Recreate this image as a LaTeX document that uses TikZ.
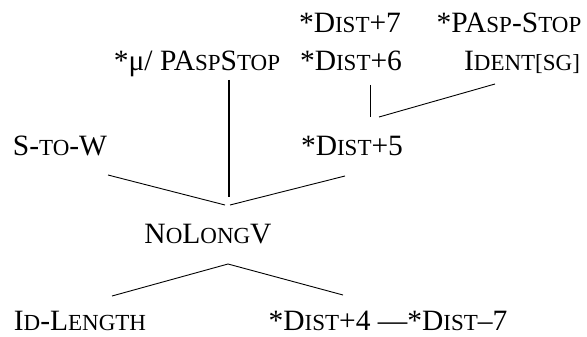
\documentclass[tikz,border=0pt]{standalone}
\usepackage{fontspec}
\setmainfont{Liberation Serif}
\newcommand\sca[1]{{\fontsize{23}{23}\selectfont #1}}
\begin{document}
\begin{tikzpicture}[x=1pt,y=-1pt,
  lbl/.style={anchor=base,inner sep=0pt,font=\fontsize{29.5}{34}\selectfont},
  conn/.style={line width=0.9pt},
  stem/.style={line width=1.3pt}]
\useasboundingbox (0,0) rectangle (587,337);
\node[lbl] (d7) at (350,33) {*D\sca{IST}+7};
\node[lbl] (pasp) at (509,33) {*PA\sca{SP}-S\sca{TOP}};
\node[lbl] (mu) at (197,71) {*μ/ PA\sca{SP}S\sca{TOP}};
\node[lbl] (d6) at (351,71) {*D\sca{IST}+6};
\node[lbl] (ident) at (522,71) {I\sca{DENT[SG]}};
\node[lbl] (stow) at (60,155) {S-\sca{TO}-W};
\node[lbl] (d5) at (352,155) {*D\sca{IST}+5};
\node[lbl] (nolong) at (208,243) {N\sca{O}L\sca{ONG}V};
\node[lbl] (idl) at (80,330) {I\sca{D}-L\sca{ENGTH}};
\node[lbl] (d4) at (388,330) {*D\sca{IST}+4 —*D\sca{IST}–7};
% connector end points
\coordinate (muB) at (229,80);
\coordinate (apexA) at (229,197);
\coordinate (stowT) at (108,175);
\coordinate (apexL) at (225,205);
\coordinate (apexR) at (230,205);
\coordinate (d5T) at (345,176);
\coordinate (d6B) at (370,85);
\coordinate (d5A) at (370,117);
\coordinate (d5B) at (379,117);
\coordinate (identB) at (495,84);
\coordinate (nlB) at (228,264);
\coordinate (idlT) at (112,296);
\coordinate (d4T) at (343,295);
\draw[stem] (muB) -- (apexA);
\draw[conn] (stowT) -- (apexL);
\draw[conn] (apexR) -- (d5T);
\draw[conn] (d6B) -- (d5A);
\draw[conn] (d5B) -- (identB);
\draw[conn] (idlT) -- (nlB) -- (d4T);
\end{tikzpicture}
\end{document}
